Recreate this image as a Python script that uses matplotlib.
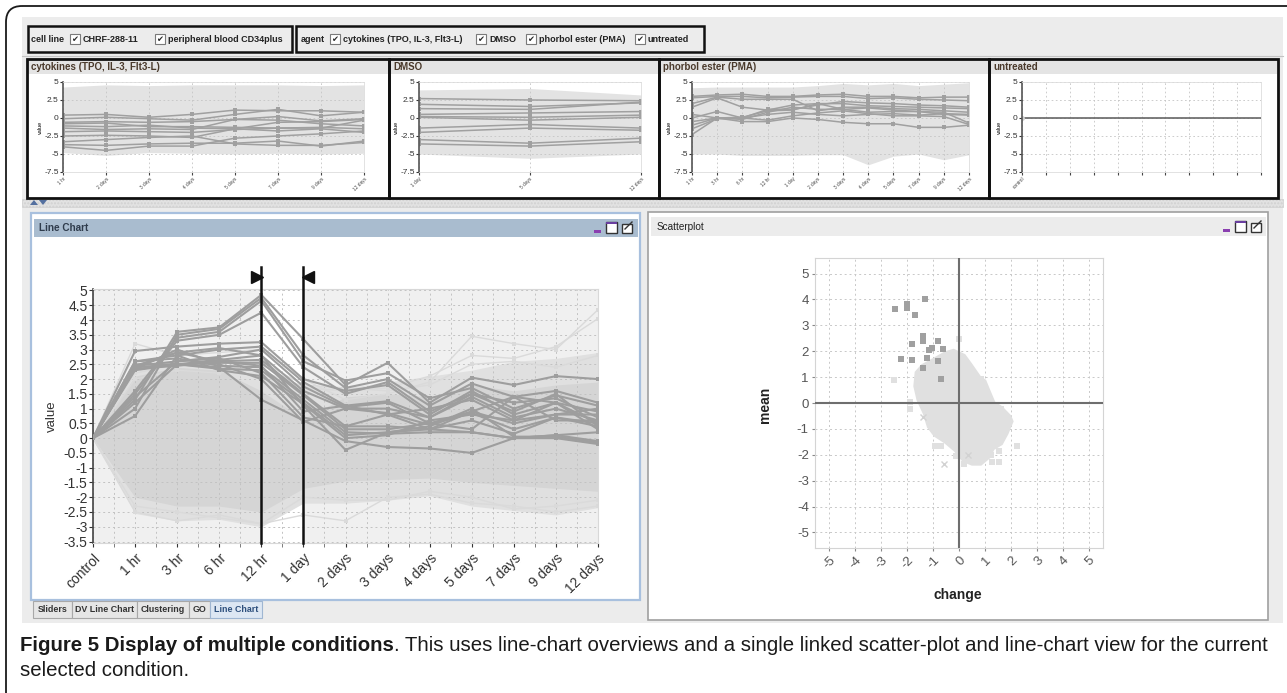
import numpy as np
import matplotlib.pyplot as plt
from matplotlib import font_manager
from matplotlib.patches import Rectangle, Polygon, FancyBboxPatch
from matplotlib.transforms import offset_copy

# ---- fonts -------------------------------------------------------------
_names = {f.name for f in font_manager.fontManager.ttflist}
NARROW = 'Liberation Sans Narrow' if 'Liberation Sans Narrow' in _names else 'Liberation Sans'
plt.rcParams['font.family'] = [NARROW, 'DejaVu Sans']

# ---- data: main line chart (selected condition) -------------------------
time_labels = ['control', '1 hr', '3 hr', '6 hr', '12 hr', '1 day', '2 days',
               '3 days', '4 days', '5 days', '7 days', '9 days', '12 days']

band_hi = [0, 2.1, 2.4, 2.3, 1.6, 0.65, 1.4, 1.5, 1.4, 1.8, 1.6, 1.8, 1.9]
band_lo = [0, -2.0, -2.3, -2.3, -2.5, -1.7, -1.45, -1.4, -1.35, -1.5, -1.6, -1.7, -1.8]
outer_hi = [0, 2.3, 2.6, 2.5, 2.3, 1.8, 1.7, 1.9, 2.1, 2.3, 2.6, 2.7, 2.9]
outer_lo = [0, -2.55, -2.8, -2.75, -3.0, -2.2, -2.2, -2.1, -1.95, -2.3, -2.45, -2.6, -2.35]

faint_profiles = [
    [0, 3.2, 2.8, 2.9, 3.0, 2.0, 1.3, 1.5, 1.9, 3.45, 3.2, 3.0, 4.35],
    [0, 2.0, 2.3, 2.2, 2.5, 1.7, 1.6, 1.7, 2.1, 2.8, 2.7, 3.1, 4.05],
    [0, 2.2, 2.5, 2.4, 2.6, 1.8, 1.7, 1.6, 1.8, 2.5, 2.6, 2.4, 2.8],
    [0, -2.5, -2.8, -2.6, -2.9, -2.6, -2.8, -2.0, -1.9, -2.2, -2.3, -2.5, -2.3],
    [0, -2.3, -2.5, -2.7, -2.9, -2.0, -2.1, -2.1, -1.8, -2.0, -2.4, -2.3, -2.1],
]

selected_profiles = [
    [0, 1.3, 3.6, 3.75, 4.85, 3.35, 1.8, 2.55, 1.2, 2.05, 1.8, 2.1, 2.0],
    [0, 1.0, 3.5, 3.7, 4.75, 2.8, 1.7, 2.0, 1.1, 1.85, 1.4, 1.6, 1.2],
    [0, 1.6, 3.4, 3.6, 4.65, 2.6, 1.95, 2.2, 1.35, 1.7, 1.0, 1.45, 1.1],
    [0, 1.5, 3.3, 3.5, 4.25, 2.4, 1.5, 1.9, 0.9, 1.5, 1.2, 1.35, 0.7],
    [0, 2.95, 3.1, 3.2, 3.25, 2.0, 1.6, 1.8, 0.8, 1.6, 0.8, 1.2, 0.5],
    [0, 2.6, 2.8, 3.0, 3.1, 1.9, 1.1, 1.25, 0.7, 1.4, 0.7, 1.0, 0.6],
    [0, 2.45, 2.6, 2.75, 3.0, 1.75, 1.05, 1.2, 0.5, 0.9, 0.5, 0.8, 0.8],
    [0, 2.4, 2.5, 2.65, 2.8, 1.6, 1.0, 0.85, 0.45, 0.85, 0.3, 0.7, 0.4],
    [0, 2.35, 2.45, 2.6, 2.65, 1.5, 0.4, 0.4, 0.3, 0.6, 0.15, 0.7, 0.5],
    [0, 2.3, 2.5, 2.55, 2.55, 1.45, 0.3, 0.3, 0.5, 0.3, 1.4, 1.2, 0.9],
    [0, 2.6, 2.7, 2.45, 2.4, 1.3, 0.2, 0.15, 0.2, 0.2, 0.0, 0.1, -0.1],
    [0, 2.5, 2.5, 2.35, 2.3, 1.2, 0.1, 0.2, 0.4, 1.0, 0.05, 0.05, -0.15],
    [0, 0.75, 2.8, 2.3, 2.1, 1.15, 0.0, 0.1, 0.6, 0.8, 0.6, 1.2, 0.3],
    [0, 1.2, 2.5, 2.4, 1.3, 0.6, -0.1, -0.3, -0.35, -0.5, 0.0, 0.1, 0.2],
    [0, 2.45, 2.9, 3.05, 2.8, 1.1, -0.4, 0.2, 0.3, 0.2, 0.0, 0.0, -0.2],
    [0, 1.4, 2.6, 2.7, 2.2, 0.7, 0.4, 0.8, 1.0, 1.3, 0.6, 0.8, 1.0],
    [0, 2.35, 3.0, 2.5, 2.0, 0.55, 1.0, 1.0, 0.7, 1.5, 0.9, 1.5, 0.4],
    [0, 2.4, 2.9, 2.6, 2.45, 0.9, 1.1, 0.8, 0.3, 0.9, 1.4, 0.6, 0.6],
]

# ---- data: overview panels ---------------------------------------------
cyto_labels = ['1 hr', '2 days', '3 days', '4 days', '5 days', '7 days', '9 days', '12 days']
cyto_hi = [4.3, 4.6, 4.5, 4.6, 4.6, 4.6, 4.5, 4.6]
cyto_lo = [-4.8, -5.2, -4.8, -4.9, -5.0, -4.9, -5.0, -4.9]
cyto_profiles = [
    [0.4, 0.5, 0.1, 0.5, 1.1, 1.0, 1.0, 0.8],
    [-0.1, 0.1, -0.1, -0.3, 0.5, 1.2, 0.3, 0.8],
    [-0.6, -0.5, -0.6, -0.5, -0.2, 0.2, -0.4, -0.1],
    [-1.1, -1.2, -1.0, -1.4, -1.5, -0.6, -0.5, -0.2],
    [-1.4, -1.6, -1.5, -1.6, -0.2, -0.3, -0.8, -1.1],
    [-1.9, -1.8, -1.9, -2.0, -1.6, -1.4, -1.3, -1.5],
    [-2.5, -2.4, -2.5, -2.7, -1.5, -1.8, -1.5, -2.0],
    [-3.3, -3.0, -2.7, -2.5, -3.6, -3.8, -3.8, -3.4],
    [-3.7, -3.8, -3.6, -3.5, -3.5, -3.2, -3.9, -3.2],
    [-4.0, -4.5, -3.9, -3.9, -2.8, -2.5, -2.2, -1.8],
    [-0.8, -0.7, -1.2, -1.2, -1.3, -1.4, -1.4, -0.3],
]

dmso_labels = ['1 day', '5 days', '12 days']
dmso_hi = [3.9, 4.1, 3.2]
dmso_lo = [-5.0, -5.6, -5.0]
dmso_profiles = [
    [2.7, 2.5, 2.4], [1.9, 1.6, 2.1], [1.3, 1.2, 2.2], [0.5, 0.7, 0.9],
    [0.2, 0.1, 0.4], [0.1, -0.3, 0.1], [-1.4, -0.9, -1.4], [-2.0, -1.4, -1.7],
    [-3.0, -3.5, -2.8], [-3.6, -3.9, -3.3],
]

pma_labels = ['1 hr', '3 hr', '6 hr', '12 hr', '1 day', '2 days', '3 days',
              '4 days', '5 days', '7 days', '9 days', '12 days']
pma_hi = [4.2, 4.3, 4.3, 4.3, 4.3, 4.5, 4.8, 4.6, 4.8, 4.5, 4.7, 4.9]
pma_lo = [-5.0, -5.0, -5.2, -5.2, -5.2, -5.1, -5.1, -6.5, -5.3, -5.0, -5.8, -5.1]
pma_profiles = [
    [3.0, 3.2, 3.3, 3.0, 3.0, 3.2, 3.3, 3.0, 3.0, 2.8, 2.9, 2.9],
    [2.8, 3.0, 3.0, 2.8, 2.9, 3.0, 3.0, 2.7, 2.8, 2.6, 2.5, 2.4],
    [2.0, 2.9, 2.6, 2.6, 2.6, 1.0, 1.5, 1.5, 1.3, 1.2, 1.0, 0.8],
    [1.5, 2.8, 1.5, 1.1, 1.8, 2.0, 2.0, 1.7, 1.6, 1.5, 1.4, 1.3],
    [0.5, 0.0, -0.2, 0.8, 1.5, 1.2, 1.2, 0.8, 0.9, 0.9, 0.8, -0.7],
    [0.0, 0.9, 0.0, -0.3, 0.3, 0.7, 1.0, 0.6, 0.3, 0.3, 0.2, -0.9],
    [-0.5, 0.0, 0.0, 0.5, 0.8, 0.5, 0.3, 0.5, 0.6, 0.4, 0.6, 0.5],
    [-1.0, 0.0, -0.5, -0.5, 0.0, -0.2, -0.6, -0.8, -0.8, -1.3, -1.3, -1.0],
    [-2.3, 0.0, 0.1, 1.0, 1.1, 2.0, 1.2, 1.4, 1.1, 0.9, 0.5, 0.4],
    [-1.5, -0.1, 0.0, 1.2, 1.2, 1.8, 2.3, 2.1, 2.0, 1.8, 1.7, 1.5],
]

untreated_labels = ['control']
untreated_values = [0.0]

# ---- data: scatterplot --------------------------------------------------
cloud_x = [-0.21, 0.19, 0.43, 0.79, 0.98, 1.14, 1.33, 1.62, 1.94, 2.02, 1.83, 1.62, 1.30,
           1.14, 0.83, 0.51, 0.19, -0.13, -0.52, -0.92, -1.16, -1.32, -1.56, -1.68,
           -1.63, -1.40, -0.92, -0.52]
cloud_y = [2.01, 1.82, 1.49, 0.97, 0.84, 0.45, 0.0, -0.19, -0.52, -0.71, -1.17, -1.56, -1.75,
           -2.08, -2.34, -2.34, -2.21, -1.82, -1.49, -1.23, -0.91, -0.39, 0.13, 0.65,
           1.17, 1.43, 1.69, 1.92]
light_x = [0.0, -2.51, -1.9, -1.9, -0.71, -0.92, -0.11, 2.25, 1.62, 1.83, 1.22, 1.54,
           1.27, 1.54, 0.19, 0.83, 0.98]
light_y = [2.47, 0.87, 0.04, -0.23, -1.66, -1.66, -2.05, -1.66, -0.23, -0.58, -2.01,
           -1.84, -2.27, -2.27, -2.34, 0.91, 0.71]
cross_x = [-1.4, -0.56, 0.35]
cross_y = [-0.55, -2.36, -2.0]
hit_x = [-2.46, -2.0, -2.0, -1.3, -1.7, -1.4, -1.4, -1.83, -1.16, -1.03, -0.81, -0.63,
         -2.24, -1.83, -1.22, -0.81, -1.4, -0.71]
hit_y = [3.64, 3.83, 3.66, 4.03, 3.39, 2.6, 2.4, 2.26, 2.05, 2.14, 2.38, 2.08,
         1.71, 1.68, 1.74, 1.62, 1.36, 0.91]

filter_cell = ['CHRF-288-11', 'peripheral blood CD34plus']
filter_agent = ['cytokines (TPO, IL-3, Flt3-L)', 'DMSO', 'phorbol ester (PMA)', 'untreated']
tab_names = ['Sliders', 'DV Line Chart', 'Clustering', 'GO', 'Line Chart']

# ---- canvas -------------------------------------------------------------
W, H = 1287, 693
fig = plt.figure(figsize=(W / 100, H / 100), dpi=100)
fig.patch.set_facecolor('white')
bg = fig.add_axes([0, 0, 1, 1])
bg.set_xlim(0, W)
bg.set_ylim(H, 0)
bg.axis('off')


def px_axes(x0, y0, x1, y1):
    return fig.add_axes([x0 / W, 1 - y1 / H, (x1 - x0) / W, (y1 - y0) / H])


def box(x0, y0, x1, y1, fc='none', ec='none', lw=1.0, z=1, **kw):
    bg.add_patch(Rectangle((x0, y0), x1 - x0, y1 - y0, facecolor=fc,
                           edgecolor=ec, linewidth=lw, zorder=z, **kw))


def checkbox(x, y):
    box(x, y - 5, x + 10, y + 5, fc='white', ec='#7a7a7a', lw=0.8, z=3)
    bg.text(x + 5, y + 0.5, '\u2714', family='DejaVu Sans', fontsize=6,
            ha='center', va='center', color='#2a2a2a', zorder=4)


def window_icons(xr, y):
    box(xr - 40, y + 2, xr - 33, y + 5, fc='#8a3fb0', z=4)
    box(xr - 28, y - 6, xr - 17, y + 5, fc='white', ec='#333', lw=1.0, z=4)
    box(xr - 28, y - 6, xr - 17, y - 4, fc='#6a3fa0', z=5)
    box(xr - 12, y - 4, xr - 2, y + 5, fc='white', ec='#333', lw=1.0, z=4)
    bg.plot([xr - 9, xr - 2, xr - 2], [y + 1, y - 6, y - 6], color='#333', lw=1.0, zorder=5)


# application background and outer frame
box(22, 17, 1283, 623, fc='#ececec', z=0)
bg.add_patch(FancyBboxPatch((6, 6), 1400, 800, boxstyle='round,pad=0,rounding_size=16',
                            facecolor='none', edgecolor='#1a1a1a', linewidth=1.3, zorder=1))

# filter bar
box(28, 26, 292, 52, fc='#ececec', ec='#111', lw=1.8, z=2)
box(296, 26, 704, 52, fc='#ececec', ec='#111', lw=1.8, z=2)
bar_font = dict(fontsize=6.5, fontweight='bold', color='#222', va='center', zorder=4)
bg.text(31, 39, 'cell line', **bar_font)
for xc, name in zip([70, 155], filter_cell):
    checkbox(xc, 39)
    bg.text(xc + 13, 39, name, **bar_font)
bg.text(301, 39, 'agent', **bar_font)
for xc, name in zip([330, 476, 526, 635], filter_agent):
    checkbox(xc, 39)
    bg.text(xc + 13, 39, name, **bar_font)
bg.plot([22, 1283], [56, 56], color='#c4c4c4', lw=0.8, zorder=1)

# overview panel frames
panel_edges = [27, 389, 659, 989, 1278]
panel_titles = filter_agent
for (x0, x1), title in zip(zip(panel_edges[:-1], panel_edges[1:]), panel_titles):
    box(x0, 59, x1, 198, fc='white', z=1)
    box(x0 + 1, 60, x1 - 1, 74, fc='#e4e4e4', z=1.5)
    box(x0, 59, x1, 198, ec='#111', lw=2.0, z=3)
    bg.text(x0 + 4, 67, title, fontsize=7, fontweight='bold', color='#4a3a2c',
            va='center', zorder=4)

# splitter strip
box(22, 199, 1283, 207, fc='#e2e2e2', ec='#d0d0d0', lw=0.5, z=1, hatch='.....')
bg.add_patch(Polygon([[30, 205], [34, 200], [38, 205]], closed=True, fc='#5470a0', ec='none', zorder=2))
bg.add_patch(Polygon([[39, 200], [43, 205], [47, 200]], closed=True, fc='#5470a0', ec='none', zorder=2))

# line chart window
box(31, 213, 640, 600, fc='white', ec='#a8c0de', lw=1.6, z=1)
box(34, 219, 638, 237, fc='#a9bccf', z=1.5)
bg.text(39, 228, 'Line Chart', fontsize=7.2, fontweight='bold', color='#2f3c4c', va='center', zorder=4)
window_icons(634, 228)

# tabs
tab_edges = [33, 72, 137, 189, 210, 262]
for i, name in enumerate(tab_names):
    x0, x1 = tab_edges[i], tab_edges[i + 1]
    sel = i == len(tab_names) - 1
    box(x0, 601, x1, 618, fc='#dde7f3' if sel else '#e6e6e6',
        ec='#9fb6d2' if sel else '#a8a8a8', lw=0.8, z=2)
    bg.text((x0 + x1) / 2, 610, name, fontsize=6.4, fontweight='bold',
            color='#2d4f7c' if sel else '#333', ha='center', va='center', zorder=4)

# scatterplot window
box(648, 212, 1268, 620, fc='white', ec='#a0a0a0', lw=1.2, z=1)
box(651, 217, 1266, 236, fc='#ececec', z=1.5)
bg.text(657, 227, 'Scatterplot', fontsize=7.2, color='#222', va='center', zorder=4)
window_icons(1263, 227)


# ---- overview charts ----------------------------------------------------
def style_small(ax, xlabels, xmax):
    ax.set_xlim(0, xmax)
    ax.set_ylim(-7.5, 5)
    ax.set_yticks([5, 2.5, 0, -2.5, -5, -7.5], ['5', '2.5', '0', '-2.5', '-5', '-7.5'])
    if len(xlabels) == 1:
        ax.set_xticks(np.arange(0, xmax + 0.01, 1))
        ax.set_xticklabels(xlabels + [''] * (len(ax.get_xticks()) - 1))
    else:
        ax.set_xticks(np.arange(len(xlabels)), xlabels)
    for lab in ax.get_xticklabels():
        lab.set_rotation(45)
        lab.set_ha('right')
        lab.set_rotation_mode('anchor')
    ax.tick_params(axis='x', labelsize=3.4, length=2, pad=1, colors='#444')
    ax.tick_params(axis='y', labelsize=6, length=2, pad=1, colors='#333')
    ax.grid(True, ls=(0, (2, 3)), color='#c4c4c4', lw=0.6)
    ax.set_axisbelow('line')
    for side in ['top', 'right', 'bottom']:
        ax.spines[side].set_color('#dddddd')
        ax.spines[side].set_linewidth(0.6)
    ax.spines['left'].set_color('#555')
    ax.spines['left'].set_linewidth(1.2)
    ax.set_ylabel('value', fontsize=4, labelpad=1)


def overview(box_px, labels, hi, lo, profiles):
    ax = px_axes(*box_px)
    xs = np.arange(len(labels))
    ax.fill_between(xs, hi, lo, color='#e3e3e3', lw=0)
    for prof in profiles:
        ax.plot(xs, prof, color='#a0a0a0', lw=1.1, marker='s', ms=2.6, mew=0)
    style_small(ax, labels, len(labels) - 1)
    return ax


overview((63, 82, 364, 172), cyto_labels, cyto_hi, cyto_lo, cyto_profiles)
overview((419, 82, 641, 172), dmso_labels, dmso_hi, dmso_lo, dmso_profiles)
overview((692, 82, 969, 172), pma_labels, pma_hi, pma_lo, pma_profiles)

ax4 = px_axes(1022, 82, 1261, 172)
ax4.axhline(untreated_values[0], color='#666', lw=1.2)
ax4.plot([0], untreated_values, marker='o', ms=2.5, color='#cfcfcf')
style_small(ax4, untreated_labels, 10)

# ---- main line chart ----------------------------------------------------
ax = px_axes(93, 289, 598, 543)
xs = np.arange(len(time_labels))
ax.set_facecolor('#f0f0f0')
ax.axvspan(4, 5, color='white', lw=0, zorder=0.5)
ax.fill_between(xs, outer_hi, outer_lo, color='#e0e0e0', lw=0, zorder=1)
ax.fill_between(xs, band_hi, band_lo, color='#d5d5d5', lw=0, zorder=1.1)
for prof in faint_profiles:
    ax.plot(xs, prof, color='#dadada', lw=1.0, marker='s', ms=2.6, mew=0, zorder=1.8)
for prof in selected_profiles:
    ax.plot(xs, prof, color='#9e9e9e', lw=1.5, marker='s', ms=3.4, mew=0, zorder=3)
ax.set_xlim(0, 12)
ax.set_ylim(-3.55, 5.05)
yt = np.arange(-3.5, 5.01, 0.5)
ax.set_yticks(yt, [f'{v:g}' for v in yt])
ax.set_xticks(xs, time_labels, rotation=45, ha='right', rotation_mode='anchor')
ax.set_xticks(np.arange(0.5, 12, 1.0), minor=True)
ax.tick_params(axis='both', which='both', length=3, color='#666')
ax.tick_params(axis='y', labelsize=10, pad=1, colors='#333')
ax.tick_params(axis='x', labelsize=10, pad=3, colors='#333')
ax.grid(True, which='both', ls=(0, (2, 3)), color='#c2c2c2', lw=0.7)
ax.set_axisbelow('line')
for side in ['top', 'right', 'bottom']:
    ax.spines[side].set_color('#d8d8d8')
    ax.spines[side].set_linewidth(0.8)
ax.spines['left'].set_color('#444')
ax.spines['left'].set_linewidth(1.2)
ax.set_ylabel('value', fontsize=9.5, color='#333', labelpad=4)

# range selector on the 12 hr .. 1 day interval
for pos, mk, dx in [(4, '>', -4.5), (5, '<', 4.5)]:
    ax.plot([pos, pos], [-3.55, 5.8], color='#111', lw=1.8, clip_on=False, zorder=5)
    tr = offset_copy(ax.transData, fig=fig, x=dx, y=0, units='dots')
    ax.plot([pos], [5.45], marker=mk, ms=8, color='#111', transform=tr, clip_on=False, zorder=5)

# ---- scatterplot --------------------------------------------------------
sx = px_axes(815, 258, 1103, 548)
sx.add_patch(Polygon(np.column_stack([cloud_x, cloud_y]), closed=True,
                     facecolor='#e0e0e0', edgecolor='#e0e0e0', lw=3, joinstyle='miter', zorder=2))
sx.plot(light_x, light_y, 's', ms=4.5, mew=0, color='#e0e0e0', zorder=2)
sx.plot(cross_x, cross_y, 'x', ms=4, mew=1, color='#d2d2d2', zorder=2)
sx.plot(hit_x, hit_y, 's', ms=4.5, mew=0, color='#a0a0a0', zorder=4)
sx.axhline(0, color='#6e6e6e', lw=1.5, zorder=3)
sx.axvline(0, color='#6e6e6e', lw=1.5, zorder=3)
sx.set_xlim(-5.55, 5.55)
sx.set_ylim(-5.6, 5.6)
ticks = np.arange(-5, 6)
sx.set_yticks(ticks, [str(t) for t in ticks])
sx.set_xticks(ticks, [str(t) for t in ticks], rotation=45, ha='right', rotation_mode='anchor')
sx.tick_params(axis='both', labelsize=9.5, length=2.5, color='#888', colors='#555', pad=2)
sx.grid(True, ls=(0, (2, 3)), color='#c8c8c8', lw=0.7)
sx.set_axisbelow(True)
for side in sx.spines.values():
    side.set_color('#d4d4d4')
    side.set_linewidth(0.8)
bg.text(765, 405, 'mean', rotation=90, fontsize=10, fontweight='bold', color='#222',
        ha='center', va='center')
bg.text(958, 595, 'change', fontsize=10, fontweight='bold', color='#222',
        ha='center', va='center')

# ---- caption --------------------------------------------------------------
cap_bold = 'Figure 5 Display of multiple conditions'
cap_rest = ('. This uses line-chart overviews and a single linked scatter-plot and '
            'line-chart view for the current')
cap_line2 = 'selected condition.'
fs = 13.0
t1 = bg.text(20, 651, cap_bold, fontsize=fs, fontweight='bold', color='#1a1a1a', va='baseline')
t2 = bg.text(0, 651, cap_rest, fontsize=fs, color='#1a1a1a', va='baseline')
t3 = bg.text(20, 676, cap_line2, fontsize=fs, color='#1a1a1a', va='baseline')
for _ in range(3):
    fig.canvas.draw()
    r = fig.canvas.get_renderer()
    w1 = t1.get_window_extent(r).width
    w2 = t2.get_window_extent(r).width
    fs = fs * (1270 - 20) / (w1 + w2)
    for t in (t1, t2, t3):
        t.set_fontsize(fs)
    fig.canvas.draw()
    t2.set_x(20 + t1.get_window_extent(fig.canvas.get_renderer()).width)

fig.savefig('out.png', dpi=100)
